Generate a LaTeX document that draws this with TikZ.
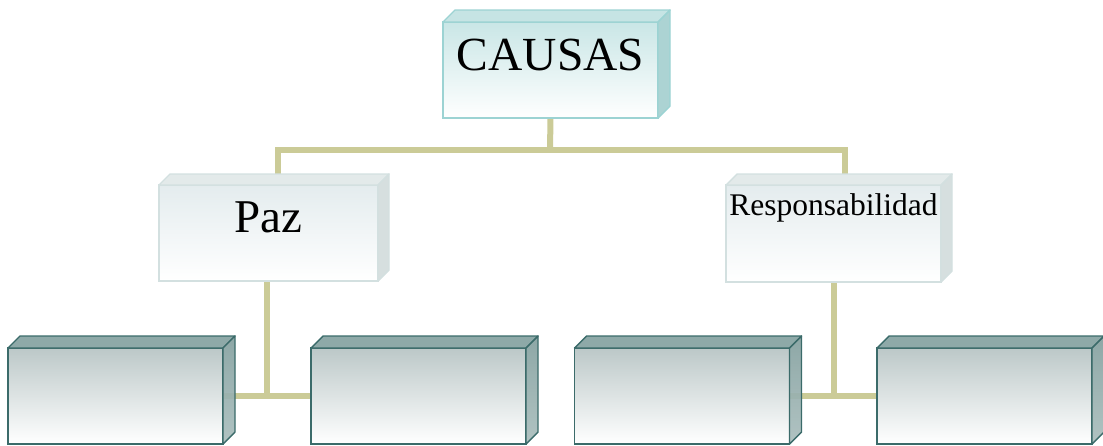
\documentclass[tikz,border=0pt]{standalone}
\usepackage{fontspec}
\setmainfont{Liberation Serif}
\usetikzlibrary{backgrounds}
\definecolor{conncol}{HTML}{CBCB97}
\definecolor{tealborder}{HTML}{9CD3D3}
\definecolor{tealtop}{HTML}{C6E4E4}
\definecolor{tealside}{HTML}{ACD3D3}
\definecolor{tealfront}{HTML}{C9E6E6}
\definecolor{grayborder}{HTML}{D3E0E0}
\definecolor{graytop}{HTML}{E3EAEA}
\definecolor{grayside}{HTML}{D6DFDF}
\definecolor{grayfront}{HTML}{E4ECEE}
\definecolor{darkborder}{HTML}{3B6B6A}
\definecolor{darktop}{HTML}{8EA9A8}
\definecolor{darksideA}{HTML}{84A09F}
\definecolor{darksideB}{HTML}{AABEBD}
\definecolor{darkfront}{HTML}{BCC8C8}
\tikzset{
  frontbox/.style={rectangle, inner sep=0pt, outer sep=0pt, minimum width=215pt, line width=1.4pt},
  causasbox/.style={frontbox, anchor=base, draw=tealborder, top color=tealfront, bottom color=white,
    font=\fontsize{47.5}{50}\selectfont, text height=48pt, text depth=48pt},
  midbox/.style={frontbox, anchor=base, draw=grayborder, top color=grayfront, bottom color=white},
  lowbox/.style={frontbox, draw=darkborder, top color=darkfront, bottom color=white,
    text height=48pt, text depth=48pt},
  conn/.style={draw=conncol, line width=6pt},
}
% name, depth, top-face style, side-face style
\newcommand\cubefaces[4]{%
  \path[#3] (#1.north west) -- ([shift={(#2,-#2)}]#1.north west)
     -- ([shift={(#2,-#2)}]#1.north east) -- (#1.north east) -- cycle;
  \path[#4] (#1.north east) -- ([shift={(#2,-#2)}]#1.north east)
     -- ([shift={(#2,-#2)}]#1.south east) -- (#1.south east) -- cycle;
}
\begin{document}
\begin{tikzpicture}[x=1pt,y=-1pt]
\useasboundingbox (0,0) rectangle (1103,445);
% top box
\node[causasbox] (causas) at (550.5,70) {CAUSAS};
\cubefaces{causas}{12}{draw=tealborder, line width=1.4pt, fill=tealtop, line join=round}{draw=tealborder, line width=1.4pt, fill=tealside, line join=round}
% middle boxes
\node[midbox, minimum width=219pt, font=\fontsize{47}{50}\selectfont, text height=47pt, text depth=49pt] (paz) at (268.5,232) {Paz};
\cubefaces{paz}{11}{draw=grayborder, line width=1.4pt, fill=graytop, line join=round}{draw=grayborder, line width=1.4pt, fill=grayside, line join=round}
\node[midbox, minimum width=215pt, font=\fontsize{31.5}{34}\selectfont, text height=30pt, text depth=67pt] (resp) at (833.5,215) {Responsabilidad};
\cubefaces{resp}{11}{draw=grayborder, line width=1.4pt, fill=graytop, line join=round}{draw=grayborder, line width=1.4pt, fill=grayside, line join=round}
% bottom boxes
\node[lowbox] (b1) at (115.5,396) {};
\node[lowbox] (b2) at (418.5,396) {};
\node[lowbox] (b3) at (682,396) {};
\node[lowbox] (b4) at (984.5,396) {};
\foreach \b in {b1,b2,b3,b4}{
  \cubefaces{\b}{12}{draw=darkborder, line width=1.4pt, fill=darktop, line join=round}{draw=darkborder, line width=1.4pt, top color=darksideA, bottom color=darksideB, fill opacity=0.92, line join=round}
}
% connectors
\begin{pgfonlayer}{background}
  \coordinate (j1) at (550,150);
  \draw[conn] (causas.south) -- (j1);
  \draw[conn] ([xshift=9.5pt]paz.north) |- (j1) -| ([xshift=11.5pt]resp.north);
  \draw[conn] ([xshift=-1.5pt]paz.south) |- (b1.east);
  \draw[conn] ([xshift=-1.5pt]paz.south) |- (b2.west);
  \draw[conn] (resp.south) |- (b3.east);
  \draw[conn] (resp.south) |- (b4.west);
\end{pgfonlayer}
\end{tikzpicture}
\end{document}
